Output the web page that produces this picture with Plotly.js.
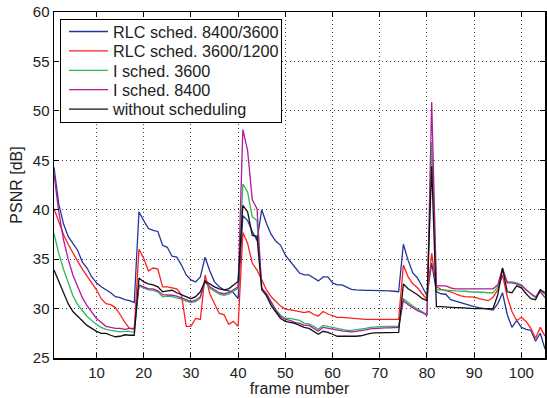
<!DOCTYPE html>
<html>
<head>
<meta charset="utf-8">
<script src="https://cdn.plot.ly/plotly-3.0.1.min.js"></script>
<style>
html,body{margin:0;padding:0;background:#fff;}
#chart{width:547px;height:398px;}
</style>
</head>
<body>
<div id="chart"></div>
<script>
// frame numbers 1..105
const frames = Array.from({length: 105}, (_, i) => i + 1);

const seriesNames = ["RLC sched. 8400/3600", "RLC sched. 3600/1200", "I sched. 3600", "I sched. 8400", "without scheduling"];

const rlc8400 = [
44.3,40.6,38.6,37.3,36.6,35.9,34.7,34.1,33.2,32.6,
32.2,31.9,31.6,31.2,31.1,30.9,30.8,30.6,39.8,38.9,
38.1,37.9,37.8,36.4,36.2,35.3,35.2,34.4,33.4,32.9,
32.7,33.2,35.2,33.8,32.7,32.2,31.9,31.8,31.6,31.0,
39.4,38.9,37.8,36.9,40.0,38.6,37.5,36.8,36.4,35.4,
34.8,34.1,33.6,33.4,33.4,33.1,32.8,33.2,33.2,32.6,
32.4,32.4,32.2,31.95,31.9,31.85,31.85,31.85,31.85,31.85,
31.8,31.8,31.75,31.7,36.5,34.9,33.6,33.1,32.2,31.3,
34.6,31.7,31.5,31.45,30.9,30.75,30.6,30.5,30.3,30.2,
30.1,30.0,29.9,29.85,30.5,31.6,29.4,28.1,28.8,28.1,
27.9,27.8,26.7,27.5,25.9];

const rlc3600 = [
40.1,38.8,37.5,36.5,35.6,34.8,34.0,33.3,32.6,31.9,
31.0,30.5,30.4,30.1,29.4,28.6,28.0,27.9,36.0,35.1,
33.8,34.1,34.0,32.2,32.2,32.1,32.0,31.4,28.2,28.2,
29.0,28.9,33.4,31.5,30.5,29.5,29.4,28.4,28.7,28.2,
37.7,36.6,34.6,33.9,32.9,31.9,31.2,30.7,30.25,29.95,
29.9,29.8,29.7,29.6,29.7,29.4,29.25,29.7,29.45,29.3,
29.1,29.1,29.05,29.0,28.95,28.95,28.9,28.9,28.9,28.9,
28.9,28.9,28.9,28.9,34.4,33.2,32.5,32.1,31.5,30.9,
35.6,32.2,31.95,31.85,31.7,31.5,31.3,31.2,31.2,31.15,
31.0,30.9,30.8,31.15,31.9,33.4,31.2,29.7,28.8,29.1,
28.7,28.0,27.0,28.1,27.2];

const isched3600 = [
37.6,35.6,34.0,32.6,31.3,30.4,29.8,29.2,28.8,28.4,
28.1,27.9,27.8,27.7,27.65,27.7,27.7,27.6,32.3,32.1,
31.9,31.85,31.7,31.2,31.25,31.2,31.1,30.95,30.75,30.6,
30.7,31.05,32.7,32.05,31.75,31.45,31.35,31.45,31.75,32.05,
42.6,41.8,39.3,38.9,32.0,31.5,30.7,29.9,29.3,29.0,
29.0,28.9,28.8,28.5,28.45,28.2,27.9,28.3,28.2,28.05,
27.95,27.9,27.8,27.8,27.85,27.9,28.0,28.1,28.15,28.15,
28.2,28.2,28.2,28.2,31.0,30.6,30.25,29.95,29.7,29.4,
46.85,31.9,31.9,31.9,31.85,31.8,31.8,31.75,31.7,31.7,
31.65,31.65,31.6,31.6,32.2,33.9,32.7,32.7,32.6,32.4,
31.9,31.5,31.1,31.9,31.4];

const isched8400 = [
43.6,39.8,37.0,35.0,33.4,32.2,31.1,30.3,29.6,29.0,
28.6,28.2,28.1,28.0,28.0,27.9,28.0,28.0,32.4,32.2,
32.0,32.0,31.8,31.4,31.4,31.35,31.25,31.1,30.9,30.7,
30.85,31.2,32.8,32.2,31.9,31.6,31.5,31.6,31.9,32.2,
48.1,46.0,41.0,40.1,32.1,31.5,30.6,29.8,29.2,28.9,
28.8,28.6,28.5,28.3,28.3,28.0,27.7,28.1,28.0,27.9,
27.8,27.75,27.7,27.65,27.7,27.75,27.85,27.95,28.0,28.0,
28.05,28.05,28.1,28.1,30.8,30.4,30.1,29.8,29.6,29.3,
50.9,32.3,32.3,32.3,32.1,32.0,32.0,32.0,32.0,32.0,
32.0,32.0,32.0,32.0,32.4,34.1,32.6,32.6,32.5,32.3,
31.9,31.5,31.2,31.7,31.1];

const noSched = [
33.9,32.7,31.5,30.5,29.7,29.2,28.7,28.3,28.0,27.7,
27.5,27.5,27.3,27.15,27.2,27.35,27.3,27.3,33.1,32.7,
32.5,32.4,32.2,31.7,31.8,31.85,31.6,31.4,31.2,31.0,
31.2,31.7,32.8,32.5,32.2,32.0,31.9,32.0,32.4,32.75,
40.45,39.8,37.4,37.3,31.9,31.3,30.3,29.6,29.0,28.7,
28.6,28.5,28.3,28.1,28.0,27.7,27.4,27.7,27.6,27.4,
27.2,27.2,27.2,27.15,27.2,27.25,27.4,27.5,27.55,27.55,
27.6,27.6,27.6,27.6,32.5,32.0,31.7,31.4,31.0,30.8,
44.4,30.2,30.2,30.15,30.1,30.1,30.1,30.05,30.05,30.0,
30.0,30.0,30.0,30.0,31.4,34.1,31.7,31.6,32.3,32.1,
31.5,31.0,30.9,31.9,31.6];

const xTicks = [10,20,30,40,50,60,70,80,90,100];
const yTicks = [25,30,35,40,45,50,55,60];

const colors = ["#24359a", "#ff1f1f", "#2dbb55", "#b3189d", "#111111"];
const allSeries = [rlc8400, rlc3600, isched3600, isched8400, noSched];

const traces = allSeries.map((ys, i) => ({
  x: frames, y: ys, type: "scatter", mode: "lines",
  name: seriesNames[i],
  line: {color: colors[i], width: 1.3}
}));

const font = "Liberation Sans, Arial, sans-serif";
const axisCommon = {
  showline: true, linecolor: "#000", linewidth: 1.5, mirror: "ticks",
  ticks: "inside", ticklen: 5, tickcolor: "#000", tickwidth: 1,
  showgrid: true, gridcolor: "#444", griddash: "1px,3px", gridwidth: 1,
  zeroline: false,
  tickfont: {family: font, size: 15, color: "#222"}
};

const layout = {
  width: 547, height: 398,
  margin: {l: 54, r: 2, t: 12, b: 40},
  paper_bgcolor: "#fff", plot_bgcolor: "#fff",
  font: {family: font, color: "#222"},
  xaxis: Object.assign({}, axisCommon, {
    range: [1, 105], tickvals: xTicks, ticktext: xTicks.map(String),
    title: {text: "frame number", font: {family: font, size: 16, color: "#222"}, standoff: 3}
  }),
  yaxis: Object.assign({}, axisCommon, {
    range: [25, 60], tickvals: yTicks, ticktext: yTicks.map(String),
    title: {text: "PSNR [dB]", font: {family: font, size: 16, color: "#222"}, standoff: 6}
  }),
  showlegend: true,
  legend: {
    x: 0.012, y: 0.98, xanchor: "left", yanchor: "top",
    bgcolor: "#fff", bordercolor: "#000", borderwidth: 1,
    font: {family: font, size: 16.2, color: "#222"},
    tracegroupgap: 0
  }
};

Plotly.newPlot("chart", traces, layout, {staticPlot: true, displayModeBar: false}).then(function (gd) {
  // tighten legend layout to match the MATLAB-style compact legend
  const leg = gd.querySelector(".legend");
  if (!leg) return;
  leg.setAttribute("transform", "translate(60,19)");
  const bg = leg.querySelector("rect.bg");
  if (bg) {
    bg.setAttribute("x", "0.5"); bg.setAttribute("y", "0.5");
    bg.setAttribute("width", "221"); bg.setAttribute("height", "103");
  }
  const sb = leg.querySelector(".scrollbox");
  if (sb) { sb.removeAttribute("clip-path"); sb.setAttribute("transform", "translate(0,0)"); }
  leg.removeAttribute("clip-path");
  leg.querySelectorAll(".scrollbar").forEach(e => e.remove());
  const items = leg.querySelectorAll("g.traces");
  items.forEach((g, i) => {
    g.setAttribute("transform", "translate(0," + (12.5 + 19.4 * i) + ")");
    const p = g.querySelector("path.js-line");
    if (p) p.setAttribute("d", "M9,0h39");
    const t = g.querySelector("text.legendtext");
    if (t) t.setAttribute("x", "53");
  });
});
</script>
</body>
</html>
